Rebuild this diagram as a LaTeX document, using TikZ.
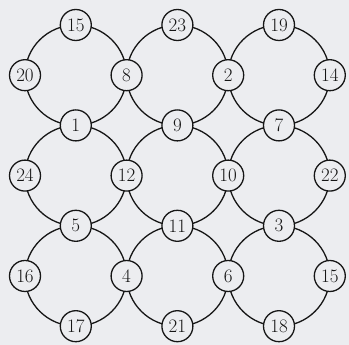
\documentclass[tikz,border=0pt]{standalone}
\definecolor{bg}{RGB}{236,237,240}
\definecolor{ink}{RGB}{22,22,22}
\begin{document}
\begin{tikzpicture}[x=1pt,y=1pt,
  ring/.style={draw=ink,line width=1.3pt},
  num/.style={circle,draw=ink,line width=1.3pt,fill=bg,minimum size=31pt,inner sep=0pt,
    font=\fontsize{19}{19}\selectfont,text=ink}]
\fill[bg] (0,0) rectangle (349,345);
\useasboundingbox (0,0) rectangle (349,345);
\begin{scope}[shift={(25pt,320pt)},x=50.8pt,y=-50.2pt]
  % centres of the nine large circles
  \foreach \i in {1,3,5}{
    \foreach \j in {1,3,5}{
      \coordinate (c\i\j) at (\i,\j);
      \draw[ring] (c\i\j) circle [radius=1];
    }
  }
  % numbered points
  \node[num] (n15a) at (1,0) {15};
  \node[num] (n23) at (3,0) {23};
  \node[num] (n19) at (5,0) {19};
  \node[num] (n20) at (0,1) {20};
  \node[num] (n8)  at (2,1) {8};
  \node[num] (n2)  at (4,1) {2};
  \node[num] (n14) at (6,1) {14};
  \node[num] (n1)  at (1,2) {1};
  \node[num] (n9)  at (3,2) {9};
  \node[num] (n7)  at (5,2) {7};
  \node[num] (n24) at (0,3) {24};
  \node[num] (n12) at (2,3) {12};
  \node[num] (n10) at (4,3) {10};
  \node[num] (n22) at (6,3) {22};
  \node[num] (n5)  at (1,4) {5};
  \node[num] (n11) at (3,4) {11};
  \node[num] (n3)  at (5,4) {3};
  \node[num] (n16) at (0,5) {16};
  \node[num] (n4)  at (2,5) {4};
  \node[num] (n6)  at (4,5) {6};
  \node[num] (n15b) at (6,5) {15};
  \node[num] (n17) at (1,6) {17};
  \node[num] (n21) at (3,6) {21};
  \node[num] (n18) at (5,6) {18};
\end{scope}
\end{tikzpicture}
\end{document}
